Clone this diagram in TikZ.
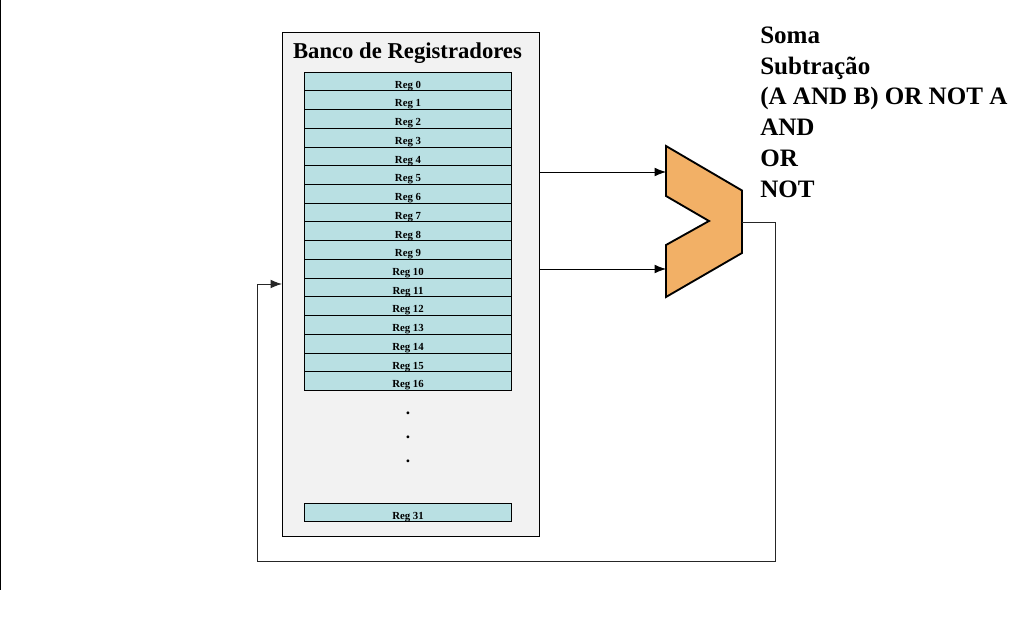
\documentclass[tikz,border=0pt]{standalone}
\usepackage{fontspec}
\setmainfont{Liberation Serif}
\usetikzlibrary{arrows.meta,calc}
\definecolor{bankGray}{HTML}{F2F2F2}
\definecolor{regBlue}{HTML}{B9E0E3}
\definecolor{aluOrange}{HTML}{F2B066}
\begin{document}
\begin{tikzpicture}[x=0.75pt,y=-0.75pt]
  \tikzstyle{bank} = [draw, line width=0.6pt, fill=bankGray, rectangle, inner sep=0pt, minimum width=192.75pt, minimum height=378pt];
  \tikzstyle{reg} = [draw, line width=0.6pt, fill=regBlue, rectangle, inner sep=0pt, minimum width=155.25pt, minimum height=14.05pt, node distance=14.05pt, text height=10.2pt, text depth=0pt, font={\fontsize{8.1pt}{8.5pt}\selectfont\bfseries}];
  \tikzstyle{title} = [font={\fontsize{17pt}{18pt}\selectfont\bfseries}, inner sep=0pt];
  \tikzstyle{ops} = [align=left, anchor=north west, inner sep=0pt, font={\fontsize{18.8pt}{23.1pt}\selectfont\bfseries}];
  \tikzstyle{moreDots} = [inner sep=0pt, font={\fontsize{13pt}{13pt}\selectfont\bfseries}];
  \tikzstyle{alu} = [draw, line width=1.4pt, fill=aluOrange, line join=miter];
  \tikzstyle{inEdge} = [line width=0.6pt, -{Latex[length=8.5pt,width=6.5pt]}];
  \tikzstyle{outEdge} = [line width=0.7pt, black!85, -{Latex[length=8.5pt,width=6.5pt]}];
  \useasboundingbox (0,0) rectangle (1026,620);
  \draw[line width=1pt] (0.5,0) -- (0.5,590);

  \node[bank, name=bank] at (410.5,284) {};
  \node[title, name=bankTitle] at (407.5,53) {Banco de Registradores};
  \node[reg, name=reg0] at (408,81.4) {Reg 0};
  \node[reg, name=reg1, below of=reg0] {Reg 1};
  \node[reg, name=reg2, below of=reg1] {Reg 2};
  \node[reg, name=reg3, below of=reg2] {Reg 3};
  \node[reg, name=reg4, below of=reg3] {Reg 4};
  \node[reg, name=reg5, below of=reg4] {Reg 5};
  \node[reg, name=reg6, below of=reg5] {Reg 6};
  \node[reg, name=reg7, below of=reg6] {Reg 7};
  \node[reg, name=reg8, below of=reg7] {Reg 8};
  \node[reg, name=reg9, below of=reg8] {Reg 9};
  \node[reg, name=reg10, below of=reg9] {Reg 10};
  \node[reg, name=reg11, below of=reg10] {Reg 11};
  \node[reg, name=reg12, below of=reg11] {Reg 12};
  \node[reg, name=reg13, below of=reg12] {Reg 13};
  \node[reg, name=reg14, below of=reg13] {Reg 14};
  \node[reg, name=reg15, below of=reg14] {Reg 15};
  \node[reg, name=reg16, below of=reg15] {Reg 16};
  \node[moreDots, name=dotA] at (408,413) {.};
  \node[moreDots, name=dotB] at (408,437) {.};
  \node[moreDots, name=dotC] at (408,461) {.};
  \node[reg, name=reg31] at (408,512.5) {Reg 31};

  \node[ops, name=ops] at (760,26.5) {Soma\\Subtração\\(A AND B) OR NOT A\\AND\\OR\\NOT};

  \coordinate (aluInA) at (666,172);
  \coordinate (aluInB) at (666,269);
  \coordinate (aluOut) at (742,222);
  \coordinate (bankIn) at (282,284);
  \coordinate (turnA) at (775,222);
  \coordinate (turnB) at (775,561);
  \coordinate (turnC) at (257,561);
  \coordinate (turnD) at (257,284);

  \draw[alu] (666,146) -- (742,190.5) -- (742,253) -- (666,297) -- (666,245) -- (709,221) -- (666,196) -- cycle;

  \draw[inEdge] (bank.east |- aluInA) -- (aluInA);
  \draw[inEdge] (bank.east |- aluInB) -- (aluInB);
  \draw[outEdge] (aluOut) -- (turnA) -- (turnB) -- (turnC) -- (turnD) -- (bankIn);
\end{tikzpicture}
\end{document}
